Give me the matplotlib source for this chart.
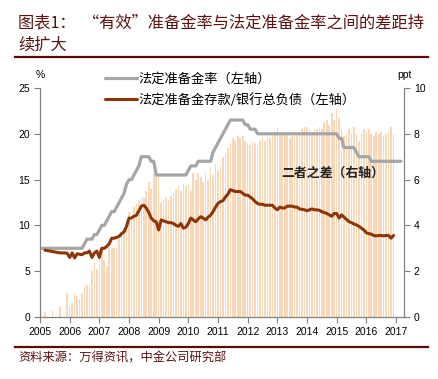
import numpy as np
import matplotlib
matplotlib.use("agg")
import matplotlib.pyplot as plt
from matplotlib.lines import Line2D

plt.rcParams['font.family'] = ['Noto Sans CJK SC', 'DejaVu Sans']

# monthly data, Jan 2005 onwards
start_year = 2005

# statutory reserve ratio (%, left axis), Jan 2005 - Mar 2017
statutory = (
    [7.5] * 12 +
    [7.5, 7.5, 7.5, 7.5, 7.5, 7.5, 8, 8.5, 8.5, 8.5, 9, 9] +
    [9.5, 10, 10, 10.5, 11, 11.5, 11.5, 12, 12.5, 13, 13.5, 14.5] +
    [15, 15, 15.5, 16, 16.5, 17.5, 17.5, 17.5, 17.5, 17, 17, 15.5] +
    [15.5] * 12 +
    [16, 16.5, 16.5, 16.5, 17, 17, 17, 17, 17, 17, 18, 18.5] +
    [19, 19.5, 20, 20.5, 21, 21.5, 21.5, 21.5, 21.5, 21.5, 21.5, 21] +
    [21, 20.5, 20.5, 20.5, 20, 20, 20, 20, 20, 20, 20, 20] +
    [20] * 12 +
    [20] * 12 +
    [20, 19.5, 19.5, 18.5, 18.5, 18.5, 18.5, 18.5, 18, 17.5, 17.5, 17.5] +
    [17.5, 17.5, 17, 17, 17, 17, 17, 17, 17, 17, 17, 17] +
    [17, 17, 17]
)

# required reserve deposits / total bank liabilities (%, left axis), Mar 2005 - Dec 2016
effective_start = 2  # March 2005
effective = (
    [7.3, 7.25, 7.2, 7.15, 7.1, 7.05, 7.0, 7.0, 7.0, 6.95] +
    [6.5, 7.0, 6.45, 6.9, 6.85, 6.8, 7.0, 7.0, 7.2, 6.5, 7.0, 7.2] +
    [6.5, 7.5, 7.5, 7.7, 8.0, 8.6, 8.6, 8.7, 8.8, 9.1, 9.3, 9.9] +
    [10.8, 10.8, 11.0, 11.1, 11.6, 12.1, 12.2, 11.9, 11.4, 10.8, 10.5, 10.4] +
    [9.5, 10.6, 10.5, 10.4, 10.3, 10.3, 10.2, 10.0, 9.9, 10.2, 9.7, 9.8] +
    [10.2, 10.8, 10.6, 10.4, 10.7, 10.95, 10.8, 10.6, 10.9, 11.1, 11.5, 12.0] +
    [12.4, 12.6, 12.7, 13.1, 13.4, 13.9, 13.8, 13.7, 13.7, 13.7, 13.5, 13.3] +
    [13.3, 13.1, 12.9, 12.6, 12.4, 12.3, 12.3, 12.2, 12.2, 12.2, 12.2, 11.9] +
    [11.7, 12.0, 11.9, 11.9, 12.1, 12.1, 12.1, 12.0, 12.0, 11.8, 11.75, 11.7] +
    [11.6, 11.7, 11.8, 11.7, 11.7, 11.65, 11.5, 11.4, 11.3, 11.15, 11.0, 11.3] +
    [11.3, 10.8, 11.15, 10.9, 10.65, 10.4, 10.3, 10.15, 10.05, 9.9, 9.7, 9.5] +
    [9.2, 9.1, 9.05, 8.9, 8.85, 8.9, 8.9, 8.85, 8.9, 8.9, 8.6, 8.9]
)

# gap between the two (ppt, right axis), Jan 2005 - Dec 2016
gap = (
    [0, 0, 0.2, 0, 0, 0.3, 0, 0, 0.5, 0, 0, 1.05] +
    [0.5, 0.6, 1.0, 0.9, 0.8, 1.0, 1.3, 1.4, 1.45, 2.0, 2.4, 2.1] +
    [3.0, 2.9, 2.5, 2.2, 3.0, 3.0, 3.0, 3.0, 3.4, 3.6, 3.9, 4.2] +
    [4.6, 4.4, 4.8, 5.0, 5.1, 5.2, 5.2, 5.5, 5.9, 5.6, 6.3, 6.2] +
    [6.1, 5.0, 5.1, 5.2, 5.1, 5.3, 5.4, 5.6, 5.7, 5.5, 5.8, 5.7] +
    [5.8, 5.5, 6.3, 6.0, 6.3, 6.1, 5.9, 6.3, 6.0, 6.5, 6.2, 6.7] +
    [6.4, 6.6, 7.0, 7.1, 7.4, 7.6, 7.8, 7.7, 7.9, 7.8, 7.9, 7.7] +
    [7.6, 7.5, 7.7, 7.6, 7.5, 7.7, 7.8, 7.7, 7.9, 7.8, 8.0, 8.1] +
    [8.3, 7.9, 8.1, 8.0, 7.9, 7.8, 7.9, 8.0, 7.9, 8.1, 8.2, 8.3] +
    [8.3, 8.2, 8.1, 8.2, 8.2, 8.3, 8.2, 8.5, 8.6, 8.4, 8.9, 8.6] +
    [9.1, 8.7, 8.3, 7.9, 8.0, 8.2, 8.0, 8.3, 8.0, 7.7, 8.0, 8.2] +
    [8.1, 8.2, 8.0, 7.9, 8.1, 8.0, 8.1, 7.9, 8.0, 8.1, 8.3, 8.0]
)

years = list(range(2005, 2018))

title1 = '图表1：  “有效”准备金率与法定准备金率之间的差距持'
title2 = '续扩大'
source = '资料来源：万得资讯，中金公司研究部'
label_stat = '法定准备金率（左轴）'
label_eff = '法定准备金存款/银行总负债（左轴）'
label_gap = '二者之差（右轴）'

red = '#5C1212'
axis_grey = '#808080'


def month_x(offset, n):
    return start_year + (offset + np.arange(n)) / 12.0


def main(plot_filename='out.png'):
    fig = plt.figure(figsize=(4.39, 3.79), dpi=100)
    ax = fig.add_axes([40 / 439, 1 - 317 / 379, 364 / 439, 229 / 379])
    ax2 = ax.twinx()

    # bars sit on the right axis but behind the lines
    ax.set_zorder(ax2.get_zorder() + 1)
    ax.patch.set_visible(False)

    ax2.bar(month_x(0, len(gap)), gap, width=0.055, color='#FAD7B6',
            align='center', linewidth=0)

    ax.plot(month_x(0, len(statutory)), statutory, color='#A6A6A6', lw=2.3,
            label=label_stat, solid_capstyle='round')
    ax.plot(month_x(effective_start, len(effective)), effective, color='#8E3508',
            lw=2.2, label=label_eff, solid_capstyle='round')

    ax.set_xlim(2005, 2017.27)
    ax.set_ylim(0, 25)
    ax2.set_ylim(0, 10)
    ax.set_xticks(years)
    ax.set_xticklabels([str(y) for y in years])
    ax.set_yticks([0, 5, 10, 15, 20, 25])
    ax2.set_yticks([0, 2, 4, 6, 8, 10])

    for a in (ax, ax2):
        a.spines['top'].set_visible(False)
        for s in ('left', 'right', 'bottom'):
            a.spines[s].set_color(axis_grey)
            a.spines[s].set_linewidth(0.8)
        a.tick_params(colors=axis_grey, labelcolor='black', labelsize=7.5,
                      length=4, width=0.8, direction='out')
        for lab in a.get_xticklabels() + a.get_yticklabels():
            lab.set_family('Liberation Sans')
    ax.tick_params(axis='y', pad=3)
    ax2.tick_params(axis='y', pad=3)

    ax.text(0, 1.035, '%', transform=ax.transAxes, ha='center', va='bottom',
            fontsize=7.5, family='Liberation Sans')
    ax2.text(1.0, 1.035, 'ppt', transform=ax2.transAxes, ha='center', va='bottom',
             fontsize=7.5, family='Liberation Sans')

    ax.legend(loc='upper left', bbox_to_anchor=(0.179, 1.065), frameon=False,
              fontsize=9.5, handlelength=2.4, handletextpad=0.1,
              labelspacing=0.5, borderpad=0, borderaxespad=0)

    ax2.text(2013.15, 6.3, label_gap, ha='left', va='center', fontsize=9.3,
             fontweight='bold', color='#222222')

    fig.text(18 / 439, 1 - 23 / 379, title1, ha='left', va='center',
             fontsize=11.7, color=red)
    fig.text(18 / 439, 1 - 45 / 379, title2, ha='left', va='center',
             fontsize=11.7, color=red)
    fig.add_artist(Line2D([15 / 439, 428 / 439], [1 - 57 / 379, 1 - 57 / 379],
                          transform=fig.transFigure, color='#5A0B0B', lw=1.6))
    fig.add_artist(Line2D([15 / 439, 428 / 439], [1 - 347 / 379, 1 - 347 / 379],
                          transform=fig.transFigure, color='#5A0B0B', lw=1.6))
    fig.text(18 / 439, 1 - 358 / 379, source, ha='left', va='center',
             fontsize=8.8, color=red)

    plt.savefig(plot_filename, dpi=100)
    plt.clf()


if __name__ == "__main__":
    main()
